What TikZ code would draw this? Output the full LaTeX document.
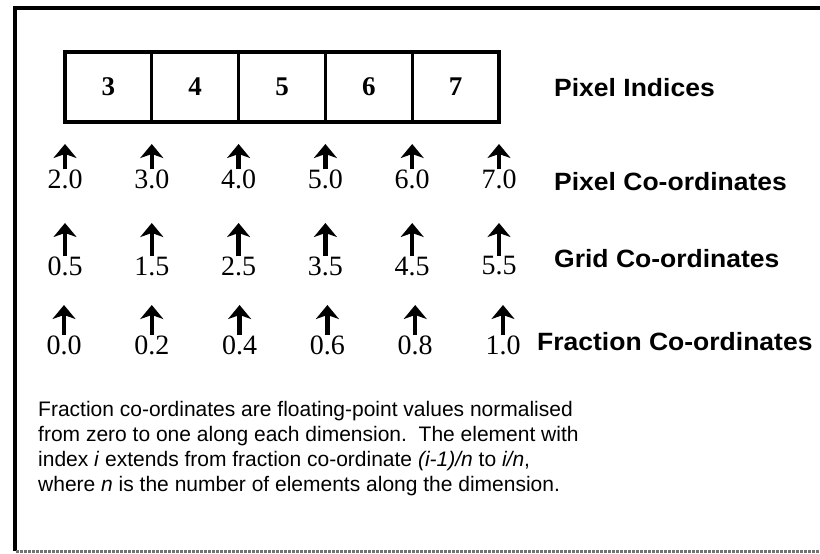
\documentclass[tikz,border=0pt]{standalone}
\usepackage{fontspec}
\setmainfont{Liberation Serif}
\setsansfont{Liberation Sans}
\newfontfamily\lblfont[FakeStretch=1.06]{Liberation Sans}
\usetikzlibrary{positioning,arrows.meta}
\tikzset{
cell/.style={draw,line width=3.2pt,minimum width=86.8pt,minimum height=70pt,inner sep=0pt,font=\fontsize{27}{27}\selectfont\bfseries},
coordval/.style={inner sep=0pt,font=\fontsize{28}{28}\selectfont},
rowlabel/.style={anchor=west,inner sep=0pt,font=\lblfont\fontsize{25}{25}\selectfont\bfseries},
uparrow/.style={-{Stealth[length=14pt,width=23pt,inset=4pt]},line width=4.5pt},
frameline/.style={line width=4pt},
note/.style={anchor=north west,inner sep=0pt,align=left,font=\sffamily\fontsize{21}{25}\selectfont}
}

\begin{document}
\begin{tikzpicture}[x=1pt,y=-1pt]
\useasboundingbox (0,0) rectangle (820,554);
\draw[frameline] (820,7.5) -- (14.5,7.5) -- (14.5,551);
\draw[line width=3pt,black!55,densely dotted] (16,551) -- (820,551);
\foreach \i [count=\k] in {3,...,7}
  \node[cell] (pix\i) at ({65+86.8*(\k-0.5)},87) {\i};
\node[rowlabel] (lblidx) at (554,88) {Pixel Indices};
\foreach \v [count=\k from 0] in {2.0,3.0,4.0,5.0,6.0,7.0} {
  \node[coordval] (pc\k) at ({65+86.8*\k},179) {\v};
  \coordinate (pctip\k) at ({65+86.8*\k},144);
  \draw[uparrow] (pc\k) -- (pctip\k);
}
\node[rowlabel] (lblpix) at (554,182) {Pixel Co-ordinates};
\foreach \v [count=\k from 0] in {0.5,1.5,2.5,3.5,4.5,5.5} {
  \node[coordval] (gc\k) at ({65+86.8*\k},266) {\v};
  \coordinate (gctip\k) at ({65+86.8*\k},223);
  \draw[uparrow] (gc\k) -- (gctip\k);
}
\node[rowlabel] (lblgrid) at (554,259) {Grid Co-ordinates};
\foreach \v [count=\k from 0] in {0.0,0.2,0.4,0.6,0.8,1.0} {
  \node[coordval] (fc\k) at ({64+87.8*\k},345) {\v};
  \coordinate (fctip\k) at ({64+87.8*\k},305);
  \draw[uparrow] (fc\k) -- (fctip\k);
}
\node[rowlabel] (lblfrac) at (537,342) {Fraction Co-ordinates};
\node[note] (desc) at (38,401.5) {Fraction co-ordinates are floating-point values normalised\\
from zero to one along each dimension.\ \ The element with\\
index \textit{i} extends from fraction co-ordinate \textit{(i-1)/n} to \textit{i/n},\\
where \textit{n} is the number of elements along the dimension.};
\end{tikzpicture}
\end{document}
